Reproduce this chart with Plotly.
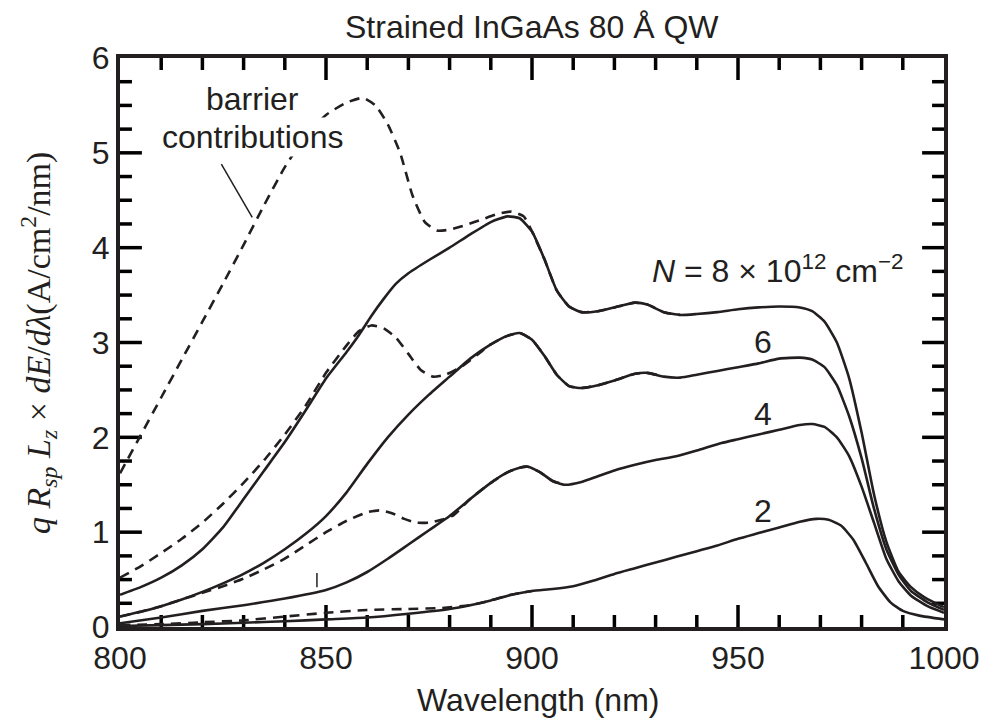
import plotly.graph_objects as go

# ---------------- data ----------------
x8 = [800, 805, 810, 815, 820, 825, 830, 835, 840, 845, 850, 855, 858, 861, 864, 867, 870, 875, 880, 885,
      890, 894, 897, 900, 903, 906, 909, 912, 916, 920, 925, 928, 932, 936, 940, 945, 950, 955, 960, 965,
      968, 971, 974, 977, 980, 983, 986, 989, 992, 995, 998, 1000]
y8 = [0.34, 0.42, 0.52, 0.65, 0.82, 1.05, 1.35, 1.65, 1.95, 2.28, 2.62, 2.9, 3.08, 3.28, 3.46, 3.62, 3.73, 3.87, 4.0, 4.14,
      4.27, 4.33, 4.31, 4.17, 3.88, 3.55, 3.38, 3.32, 3.33, 3.37, 3.42, 3.4, 3.32, 3.29, 3.3, 3.32, 3.35, 3.37, 3.38, 3.37,
      3.33, 3.22, 3.0, 2.62, 2.05, 1.4, 0.9, 0.58, 0.42, 0.32, 0.25, 0.21]

x6 = [800, 805, 810, 815, 820, 825, 830, 835, 840, 845, 850, 855, 860, 865, 870, 875, 880, 885, 890, 894,
      897, 900, 903, 906, 909, 912, 916, 920, 925, 928, 932, 936, 940, 945, 950, 955, 960, 965, 968, 971,
      974, 977, 980, 983, 986, 989, 992, 996, 1000]
y6 = [0.11, 0.16, 0.22, 0.29, 0.37, 0.46, 0.56, 0.68, 0.82, 0.98, 1.17, 1.42, 1.72, 2.0, 2.24, 2.45, 2.64, 2.83, 2.98, 3.07,
      3.1, 3.03, 2.86, 2.66, 2.54, 2.52, 2.55, 2.6, 2.67, 2.68, 2.64, 2.63, 2.66, 2.7, 2.74, 2.78, 2.83, 2.84, 2.82, 2.74,
      2.55, 2.22, 1.78, 1.25, 0.82, 0.55, 0.38, 0.26, 0.18]

x4 = [800, 810, 820, 830, 840, 850, 855, 860, 865, 870, 875, 880, 885, 890, 894,
      897, 899, 902, 905, 908, 912, 916, 920, 925, 930, 935, 940, 946, 950, 955, 960, 965, 968, 971, 974,
      977, 980, 983, 986, 989, 992, 996, 1000]
y4 = [0.04, 0.1, 0.17, 0.23, 0.3, 0.39, 0.47, 0.58, 0.72, 0.87, 1.02, 1.17, 1.35, 1.52, 1.63,
      1.68, 1.69, 1.63, 1.54, 1.5, 1.53, 1.59, 1.65, 1.71, 1.76, 1.8, 1.86, 1.94, 1.98, 2.03, 2.08, 2.13, 2.14, 2.11, 2.0,
      1.8, 1.48, 1.1, 0.72, 0.48, 0.33, 0.22, 0.15]

x2 = [800, 810, 820, 830, 840, 850, 860, 870, 880, 885, 890, 895, 900, 905, 910, 915, 920, 925, 930, 935,
      940, 945, 950, 955, 960, 965, 969, 972, 975, 978, 981, 984, 987, 990, 994, 1000]
y2 = [0.01, 0.02, 0.03, 0.045, 0.06, 0.08, 0.1, 0.14, 0.19, 0.23, 0.28, 0.34, 0.38, 0.4, 0.43, 0.49, 0.56, 0.62, 0.68, 0.74,
      0.8, 0.86, 0.93, 0.99, 1.05, 1.11, 1.14, 1.13, 1.07, 0.92, 0.68, 0.43, 0.26, 0.17, 0.12, 0.08]

# curves including barrier contributions (dashed)
xb8 = [800, 805, 810, 815, 820, 825, 830, 835, 840, 845, 850, 855, 859, 862, 865, 868, 871, 874, 877, 880,
       884, 888, 892, 895, 898, 900, 903, 906, 909, 912, 916, 920, 925, 928, 932, 936]
yb8 = [1.62, 2.02, 2.42, 2.82, 3.22, 3.62, 4.03, 4.45, 4.85, 5.17, 5.4, 5.53, 5.58, 5.5, 5.3, 5.0, 4.55, 4.27, 4.18, 4.19,
       4.24, 4.3, 4.36, 4.38, 4.33, 4.17, 3.88, 3.55, 3.38, 3.32, 3.33, 3.37, 3.42, 3.4, 3.32, 3.29]

xb6 = [800, 805, 810, 815, 820, 825, 830, 835, 840, 845, 850, 855, 858, 861, 864, 867, 870, 873, 876, 879,
       883, 887, 890, 894, 897, 900, 903, 906, 909, 912, 916, 920, 925, 928, 932]
yb6 = [0.52, 0.64, 0.78, 0.93, 1.1, 1.3, 1.52, 1.76, 2.03, 2.33, 2.68, 2.97, 3.12, 3.18, 3.15, 3.05, 2.88, 2.71, 2.64, 2.66,
       2.75, 2.88, 2.98, 3.07, 3.1, 3.03, 2.86, 2.66, 2.54, 2.52, 2.55, 2.6, 2.67, 2.68, 2.64]

xb4 = [800, 805, 810, 815, 820, 825, 830, 835, 840, 845, 850, 855, 860, 863, 866, 869, 872, 875, 878, 881,
       885, 890, 894, 897, 899, 902, 905, 908]
yb4 = [0.11, 0.16, 0.22, 0.29, 0.36, 0.43, 0.51, 0.61, 0.72, 0.86, 1.0, 1.12, 1.21, 1.23, 1.2, 1.14, 1.1, 1.1, 1.13, 1.18,
       1.35, 1.52, 1.63, 1.68, 1.69, 1.63, 1.54, 1.5]

xb2 = [800, 810, 820, 830, 840, 850, 860, 870, 878, 885, 890, 895, 900]
yb2 = [0.02, 0.03, 0.05, 0.07, 0.11, 0.15, 0.18, 0.19, 0.2, 0.23, 0.28, 0.34, 0.38]

x_range = [800, 1000]
y_range = [0, 6]
x_major = [800, 850, 900, 950, 1000]
y_major = [0, 1, 2, 3, 4, 5, 6]
x_minor_step = 10
y_minor_step = 0.25

INK = "#231f20"
SANS = "Liberation Sans, Arial, sans-serif"
SERIF = "Liberation Serif, Times New Roman, serif"

W, H = 992, 720
ML, MR, MT, MB = 120, 44, 58, 93
x_per_px = (x_range[1] - x_range[0]) / (W - ML - MR)
y_per_px = (y_range[1] - y_range[0]) / (H - MT - MB)
MAJ_PX, MIN_PX = 22, 12

# tick-mark segments (inward, on all four sides), built from the axis values
tick_x, tick_y = [], []
for i in range(1, int(round((x_range[1] - x_range[0]) / x_minor_step))):
    xv = x_range[0] + i * x_minor_step
    ln = (MAJ_PX if xv in x_major else MIN_PX) * y_per_px
    tick_x += [xv, xv, None, xv, xv, None]
    tick_y += [y_range[0], y_range[0] + ln, None, y_range[1], y_range[1] - ln, None]
for i in range(1, int(round((y_range[1] - y_range[0]) / y_minor_step))):
    yv = y_range[0] + i * y_minor_step
    ln = (MAJ_PX if abs(yv - round(yv)) < 1e-9 else MIN_PX) * x_per_px
    tick_x += [x_range[0], x_range[0] + ln, None, x_range[1], x_range[1] - ln, None]
    tick_y += [yv, yv, None, yv, yv, None]

fig = go.Figure()

# ticks first so that curves are drawn over them
fig.add_trace(go.Scatter(x=tick_x, y=tick_y, mode="lines", line=dict(color="black", width=3.5),
                         showlegend=False, hoverinfo="skip", connectgaps=False, cliponaxis=False))

for xs, ys in [(x8, y8), (x6, y6), (x4, y4), (x2, y2)]:
    fig.add_trace(go.Scatter(x=xs, y=ys, mode="lines", line=dict(color=INK, width=2.6, shape="spline", smoothing=0.5),
                             showlegend=False, hoverinfo="skip"))
for xs, ys in [(xb8, yb8), (xb6, yb6), (xb4, yb4), (xb2, yb2)]:
    fig.add_trace(go.Scatter(x=xs, y=ys, mode="lines",
                             line=dict(color=INK, width=2.6, dash="10px,7px", shape="spline", smoothing=0.5),
                             showlegend=False, hoverinfo="skip"))

fig.update_layout(
    xaxis=dict(range=x_range, tickvals=x_major, ticktext=[str(v) for v in x_major], ticks="",
               showline=True, linewidth=4, linecolor=INK, mirror=True, showgrid=False, zeroline=False,
               tickfont=dict(family=SANS, size=32, color=INK)),
    yaxis=dict(range=y_range, tickvals=y_major, ticktext=[str(v) for v in y_major], ticks="",
               showline=True, linewidth=4, linecolor=INK, mirror=True, showgrid=False, zeroline=False,
               tickfont=dict(family=SANS, size=32, color=INK)),
)

ann = []
ann.append(dict(text="Strained InGaAs 80 Å QW", x=0.5, y=1.0545, xref="paper", yref="paper",
                xanchor="center", yanchor="middle", showarrow=False, font=dict(family=SANS, size=32, color=INK)))
ann.append(dict(text="Wavelength (nm)", x=0.507, y=-0.128, xref="paper", yref="paper",
                xanchor="center", yanchor="middle", showarrow=False, font=dict(family=SANS, size=32, color=INK)))
ytitle = ("<i>q R</i><sub><i>sp</i></sub> <i>L</i><sub><i>z</i></sub> × "
          "<i>dE</i>/<i>dλ</i>(A/cm<sup>2</sup>/nm)")
ann.append(dict(text=ytitle, x=-0.099, y=0.5, xref="paper", yref="paper", textangle=-90,
                xanchor="center", yanchor="middle", showarrow=False, font=dict(family=SERIF, size=34, color=INK)))
ann.append(dict(text="barrier", x=832.1, y=5.57, xref="x", yref="y", xanchor="center", yanchor="middle",
                showarrow=False, font=dict(family=SANS, size=32, color=INK)))
ann.append(dict(text="contributions", x=832.1, y=5.17, xref="x", yref="y", xanchor="center", yanchor="middle",
                showarrow=False, bgcolor="white", font=dict(family=SANS, size=32, color=INK)))
nlab = "<i>N</i> = 8 × 10<sup>12</sup> cm<sup>−2</sup>"
ann.append(dict(text=nlab, x=959.5, y=3.78, xref="x", yref="y", xanchor="center", yanchor="middle",
                showarrow=False, font=dict(family=SANS, size=32, color=INK)))
for lab, yy in [("6", 3.01), ("4", 2.25), ("2", 1.22)]:
    ann.append(dict(text=lab, x=956.0, y=yy, xref="x", yref="y", xanchor="center", yanchor="middle",
                    showarrow=False, font=dict(family=SANS, size=32, color=INK)))

fig.update_layout(
    width=W, height=H,
    margin=dict(l=ML, r=MR, t=MT, b=MB),
    paper_bgcolor="white", plot_bgcolor="white",
    annotations=ann,
    shapes=[dict(type="line", xref="x", yref="y", x0=824.6, y0=4.88, x1=832.1, y1=4.32,
                 line=dict(color=INK, width=1.5)),
            # small stray vertical mark visible in the reference near 848 nm
            dict(type="line", xref="x", yref="y", x0=847.8, y0=0.42, x1=847.8, y1=0.57,
                 line=dict(color=INK, width=1.5))],
)

fig.write_html("out.html")
